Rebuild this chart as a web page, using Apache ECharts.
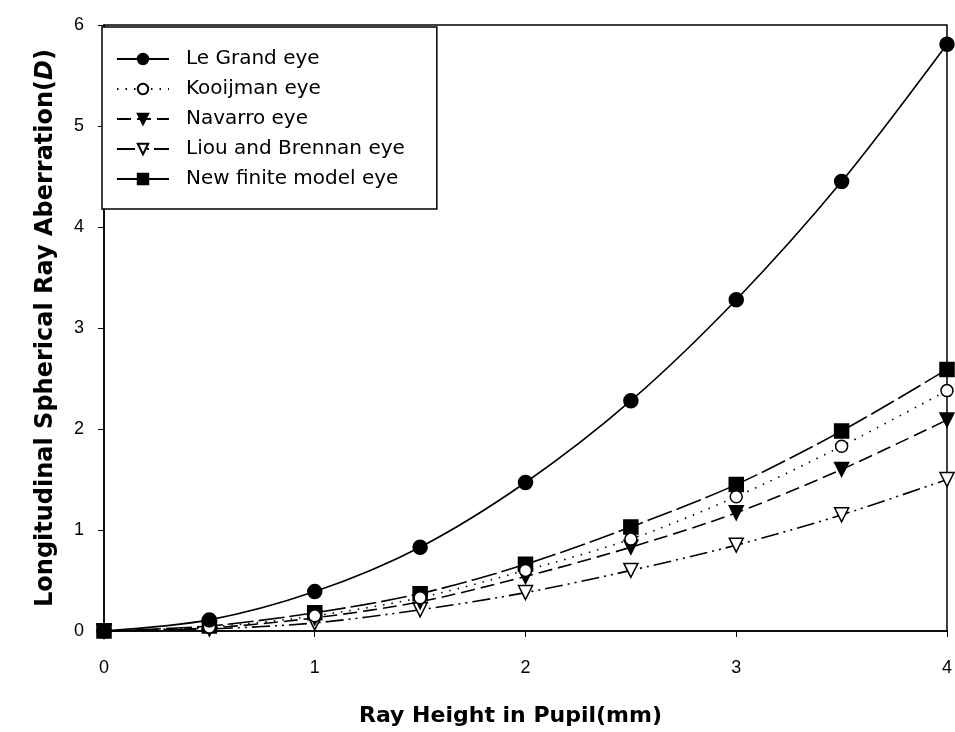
<!DOCTYPE html>
<html>
<head>
<meta charset="utf-8">
<script src="https://cdn.jsdelivr.net/npm/echarts@6/dist/echarts.min.js"></script>
<style>html,body{margin:0;padding:0;background:#fff;overflow:hidden}#c{width:955px;height:732px}</style>
</head>
<body>
<div id="c"></div>
<script>
const xValues = [0, 0.5, 1, 1.5, 2, 2.5, 3, 3.5, 4];
const seriesNames = ['Le Grand eye', 'Kooijman eye', 'Navarro eye', 'Liou and Brennan eye', 'New finite model eye'];
const leGrand   = [0, 0.11, 0.39, 0.83, 1.47, 2.28, 3.28, 4.45, 5.81];
const kooijman  = [0, 0.04, 0.15, 0.33, 0.60, 0.91, 1.33, 1.83, 2.38];
const navarro   = [0, 0.03, 0.13, 0.29, 0.54, 0.83, 1.17, 1.60, 2.09];
const liou      = [0, 0.02, 0.08, 0.21, 0.38, 0.60, 0.85, 1.15, 1.50];
const newFinite = [0, 0.05, 0.18, 0.37, 0.66, 1.03, 1.45, 1.98, 2.59];
const xTicks = [0, 1, 2, 3, 4];
const yTicks = [0, 1, 2, 3, 4, 5, 6];

const pair = arr => xValues.map((x, i) => [x, arr[i]]);
const font = 'Liberation Sans, Arial, sans-serif';
const wide = 'DejaVu Sans, sans-serif';

const chart = echarts.init(document.getElementById('c'));
const styles = [
  {data: leGrand, symbol: 'circle', size: 14, rotate: 0, fill: '#000', dash: 'solid'},
  {data: kooijman, symbol: 'circle', size: 12, rotate: 0, fill: '#fff', dash: [1.5, 7]},
  {data: navarro, symbol: 'triangle', size: 14, rotate: 180, fill: '#000', dash: [14, 6]},
  {data: liou, symbol: 'triangle', size: 14, rotate: 180, fill: '#fff', dash: [18, 5, 2, 5, 2, 5]},
  {data: newFinite, symbol: 'rect', size: 14, rotate: 0, fill: '#000', dash: [26, 5]}
];
const series = styles.map((s, i) => ({
  name: seriesNames[i],
  type: 'line',
  smooth: 0.3,
  data: pair(s.data),
  symbol: s.symbol,
  symbolSize: s.size,
  symbolRotate: s.rotate,
  showAllSymbol: true,
  z: 10 - i,
  itemStyle: {color: s.fill, borderColor: '#000', borderWidth: 1.5, opacity: 1},
  lineStyle: {color: '#000', width: 1.6, type: s.dash},
  emphasis: {disabled: true}
}));

chart.setOption({
  animation: false,
  backgroundColor: '#fff',
  grid: {left: 104, right: 1, top: 25, bottom: 99, show: true, borderColor: '#000', borderWidth: 1.5},
  legend: {
    orient: 'vertical',
    left: 102, top: 27,
    padding: [22, 32, 20, 14],
    borderColor: '#000', borderWidth: 1.5,
    backgroundColor: '#fff',
    itemWidth: 52, itemHeight: 13, itemGap: 10,
    textStyle: {fontFamily: wide, fontSize: 20, color: '#000', lineHeight: 20, padding: [0, 0, 0, 12]},
    data: seriesNames
  },
  xAxis: {
    type: 'value', min: 0, max: 4, interval: 1,
    name: 'Ray Height in Pupil(mm)', nameLocation: 'middle', nameGap: 74,
    nameTextStyle: {fontFamily: wide, fontSize: 22, fontWeight: 'bold', color: '#000', padding: [0, 30, 0, 0]},
    axisLine: {show: true, lineStyle: {color: '#000', width: 1.5}},
    axisTick: {show: true, inside: false, length: 6, lineStyle: {color: '#000'}},
    axisLabel: {fontFamily: font, fontSize: 18, color: '#000', margin: 28,
      formatter: v => xTicks.includes(v) ? String(v) : ''},
    splitLine: {show: false}
  },
  yAxis: {
    type: 'value', min: 0, max: 6, interval: 1,
    name: '{a|Longitudinal Spherical Ray Aberration(}{b|D}{a|)}',
    nameLocation: 'middle', nameGap: 46, nameRotate: 90,
    nameTextStyle: {
      rich: {
        a: {fontFamily: wide, fontSize: 24, fontWeight: 'bold', color: '#000'},
        b: {fontFamily: wide, fontSize: 24, fontWeight: 'bold', fontStyle: 'italic', color: '#000'}
      }
    },
    axisLine: {show: true, lineStyle: {color: '#000', width: 1.5}},
    axisTick: {show: true, inside: false, length: 6, lineStyle: {color: '#000'}},
    axisLabel: {fontFamily: font, fontSize: 18, color: '#000', margin: 20,
      formatter: v => yTicks.includes(v) ? String(v) : ''},
    splitLine: {show: false}
  },
  series: series
});
</script>
</body>
</html>
